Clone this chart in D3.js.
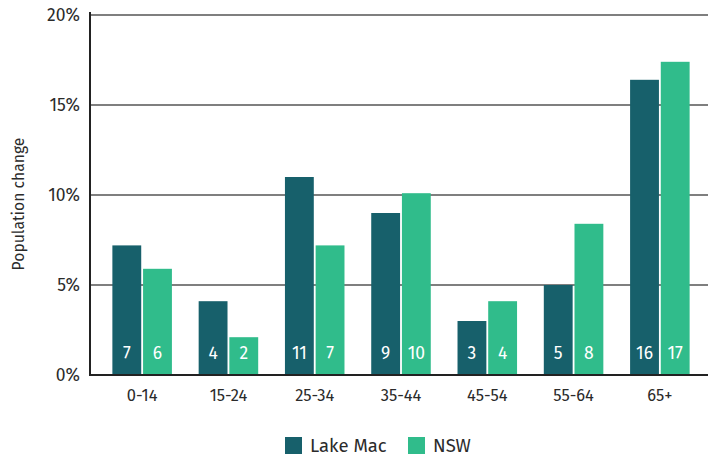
<!DOCTYPE html>
<html>
<head>
<meta charset="utf-8">
<script src="https://cdn.jsdelivr.net/npm/d3@7"></script>
<style>
  html, body { margin: 0; padding: 0; background: #fff; }
  svg { display: block; font-family: "Fira Sans", "Noto Sans", sans-serif; }
</style>
</head>
<body>
<svg id="chart" width="716" height="456"></svg>
<script>
// Age groups and percentage population change
const categories = ["0-14", "15-24", "25-34", "35-44", "45-54", "55-64", "65+"];
const lakeMac = [7.2, 4.1, 11.0, 9.0, 3.0, 5.0, 16.4];
const nsw = [5.9, 2.1, 7.2, 10.1, 4.1, 8.4, 17.4];
const seriesNames = ["Lake Mac", "NSW"];
const seriesColors = ["#17606b", "#30bc8b"];
const yTicks = [0, 5, 10, 15, 20];

const svg = d3.select("#chart");
const axisLeftX = 90, plotRight = 708, plotTop = 15, plotBottom = 375;

const y = d3.scaleLinear().domain([0, 20]).range([plotBottom, plotTop]);
const x0 = d3.scaleBand().domain(categories).range([99, 703]).paddingInner(0.31).paddingOuter(0.155);
const x1 = d3.scaleBand().domain(seriesNames).range([0, x0.bandwidth()]).paddingInner(0.06);

// Horizontal gridlines
svg.append("g")
  .selectAll("line")
  .data(yTicks.filter(d => d > 0))
  .join("line")
  .attr("x1", axisLeftX).attr("x2", plotRight)
  .attr("y1", d => y(d)).attr("y2", d => y(d))
  .attr("stroke", "#555").attr("stroke-width", 1.3);

// Y tick labels
svg.append("g")
  .selectAll("text")
  .data(yTicks)
  .join("text")
  .attr("x", 80).attr("y", d => y(d))
  .attr("dy", "0.35em")
  .attr("text-anchor", "end")
  .attr("font-size", 17.5)
  .attr("fill", "#2b2b2b")
  .text(d => d + "%");

// Y axis title
svg.append("text")
  .attr("transform", `translate(24,204) rotate(-90)`)
  .attr("text-anchor", "middle")
  .attr("font-size", 15.7)
  .attr("fill", "#2b2b2b")
  .text("Population change");

// Bars
const rows = categories.map((c, i) => ({ cat: c, vals: [lakeMac[i], nsw[i]] }));
const groups = svg.append("g")
  .selectAll("g")
  .data(rows)
  .join("g")
  .attr("transform", d => `translate(${x0(d.cat)},0)`);

groups.selectAll("rect")
  .data(d => d.vals.map((v, j) => ({ name: seriesNames[j], v, j })))
  .join("rect")
  .attr("x", d => x1(d.name))
  .attr("width", x1.bandwidth())
  .attr("y", d => y(d.v))
  .attr("height", d => plotBottom - y(d.v))
  .attr("fill", d => seriesColors[d.j]);

groups.selectAll("text.val")
  .data(d => d.vals.map((v, j) => ({ name: seriesNames[j], v, j })))
  .join("text")
  .attr("class", "val")
  .attr("x", d => x1(d.name) + x1.bandwidth() / 2)
  .attr("y", 359)
  .attr("text-anchor", "middle")
  .attr("font-size", 17.5)
  .attr("fill", "#fff")
  .text(d => Math.round(d.v));

// Axes lines
svg.append("line")
  .attr("x1", axisLeftX).attr("x2", axisLeftX)
  .attr("y1", plotTop - 3).attr("y2", plotBottom + 1)
  .attr("stroke", "#222").attr("stroke-width", 2);
svg.append("line")
  .attr("x1", axisLeftX - 1).attr("x2", plotRight)
  .attr("y1", plotBottom).attr("y2", plotBottom)
  .attr("stroke", "#222").attr("stroke-width", 2);

// Category labels
svg.append("g")
  .selectAll("text")
  .data(categories)
  .join("text")
  .attr("x", d => x0(d) + x0.bandwidth() / 2)
  .attr("y", 401)
  .attr("text-anchor", "middle")
  .attr("font-size", 16.5)
  .attr("fill", "#2b2b2b")
  .text(d => d);

// Legend
const legendPos = [285, 408];
const legend = svg.append("g")
  .selectAll("g")
  .data(seriesNames)
  .join("g")
  .attr("transform", (d, i) => `translate(${legendPos[i]},437)`);
legend.append("rect")
  .attr("width", 17).attr("height", 17)
  .attr("fill", (d, i) => seriesColors[i]);
legend.append("text")
  .attr("x", 25).attr("y", 8.5)
  .attr("dy", "0.35em")
  .attr("font-size", 18.5)
  .attr("fill", "#2b2b2b")
  .text(d => d);
</script>
</body>
</html>
